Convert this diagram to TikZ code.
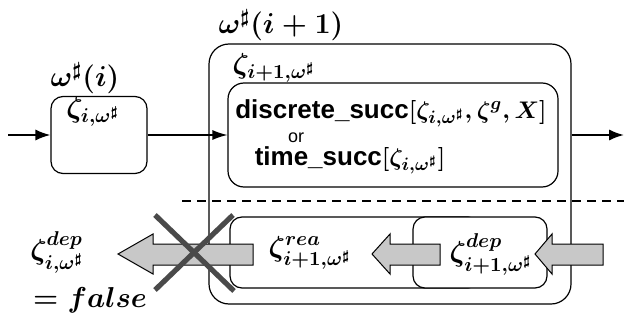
\documentclass[tikz,border=0pt]{standalone}
\usepackage{amsmath,amssymb}
\usepackage{fontspec}
\setsansfont{Liberation Sans}
\usepackage{tikz}
\usetikzlibrary{arrows.meta,calc,positioning}
\definecolor{arrowgray}{HTML}{C8C8C8}
\definecolor{crossgray}{HTML}{4A4A4A}
\newcommand{\grayarrow}[3]{\draw[blockarr] (#1,244) -- (#2,244) -- (#2,234) -- (#3,254) -- (#2,274) -- (#2,265) -- (#1,265) -- cycle;}

\begin{document}
\begin{tikzpicture}[x=0.5pt,y=-0.5pt,>=Latex,
  box/.style={draw,line width=0.6pt,inner sep=0pt},
  lbl/.style={inner sep=0pt,font=\Large\boldmath},
  succtext/.style={inner sep=0pt,font=\fontsize{13}{15}\selectfont\sffamily\bfseries\boldmath},
  blockarr/.style={draw,line width=0.5pt,fill=arrowgray},
  crossline/.style={crossgray,line width=2.6pt}]
  \useasboundingbox (0,0) rectangle (624,320);
  \node[box,rounded corners=10pt,minimum width=181pt,minimum height=130pt] (big) at (390,174) {};
  \node[box,rounded corners=6pt,minimum width=48pt,minimum height=38.5pt] (stI) at (99,135) {};
  \node[box,rounded corners=8pt,minimum width=165pt,minimum height=52pt] (succ) at (393,135) {};
  \node[box,rounded corners=6pt,minimum width=125pt,minimum height=35.5pt] (rea) at (355,252.5) {};
  \node[box,rounded corners=6pt,fill=white,minimum width=67pt,minimum height=35.5pt] (dep) at (480,252.5) {};
  \node[lbl] (labI) at (85,78) {$\omega^\sharp(i)$};
  \node[lbl] (labII) at (281,25) {$\omega^\sharp(i+1)$};
  \node[lbl] (zI) at (93,112) {$\zeta_{i,\omega^\sharp}$};
  \node[lbl] (zII) at (274,68) {$\zeta_{i+1,\omega^\sharp}$};
  \node[succtext] (disc) at (391,113) {discrete\_succ$[\zeta_{i,\omega^\sharp},\zeta^{g},X]$};
  \node[inner sep=0pt,font=\small\sffamily] (orr) at (296,138) {or};
  \node[succtext] (tsucc) at (350,160) {time\_succ$[\zeta_{i,\omega^\sharp}]$};
  \node[lbl] (zrea) at (310,253) {$\zeta^{rea}_{i+1,\omega^\sharp}$};
  \node[lbl] (zdep) at (491,254) {$\zeta^{dep}_{i+1,\omega^\sharp}$};
  \node[lbl] (zdepI) at (57,252) {$\zeta^{dep}_{i,\omega^\sharp}$};
  \node[lbl] (isfalse) at (90,300) {$=false$};
  \coordinate (inStart) at (8,135);
  \coordinate (outEnd) at (624,135);
  \draw[->,line width=1pt] (inStart) -- (stI.west);
  \draw[-{Latex[length=7.5pt,width=5pt]},line width=0.6pt] (stI.east) -- (stI.east -| succ.west);
  \draw[->,line width=1pt] (big.east |- outEnd) -- (outEnd);
  \draw[line width=1.1pt,dash pattern=on 4.5pt off 3pt] (182,201) -- (624,201);
  \grayarrow{603}{552}{535}
  \grayarrow{440}{390}{372}
  \grayarrow{253}{153}{118}
  \draw[crossline] (155,215) -- (234,291);
  \draw[crossline] (233,215) -- (155,290);
\end{tikzpicture}
\end{document}
